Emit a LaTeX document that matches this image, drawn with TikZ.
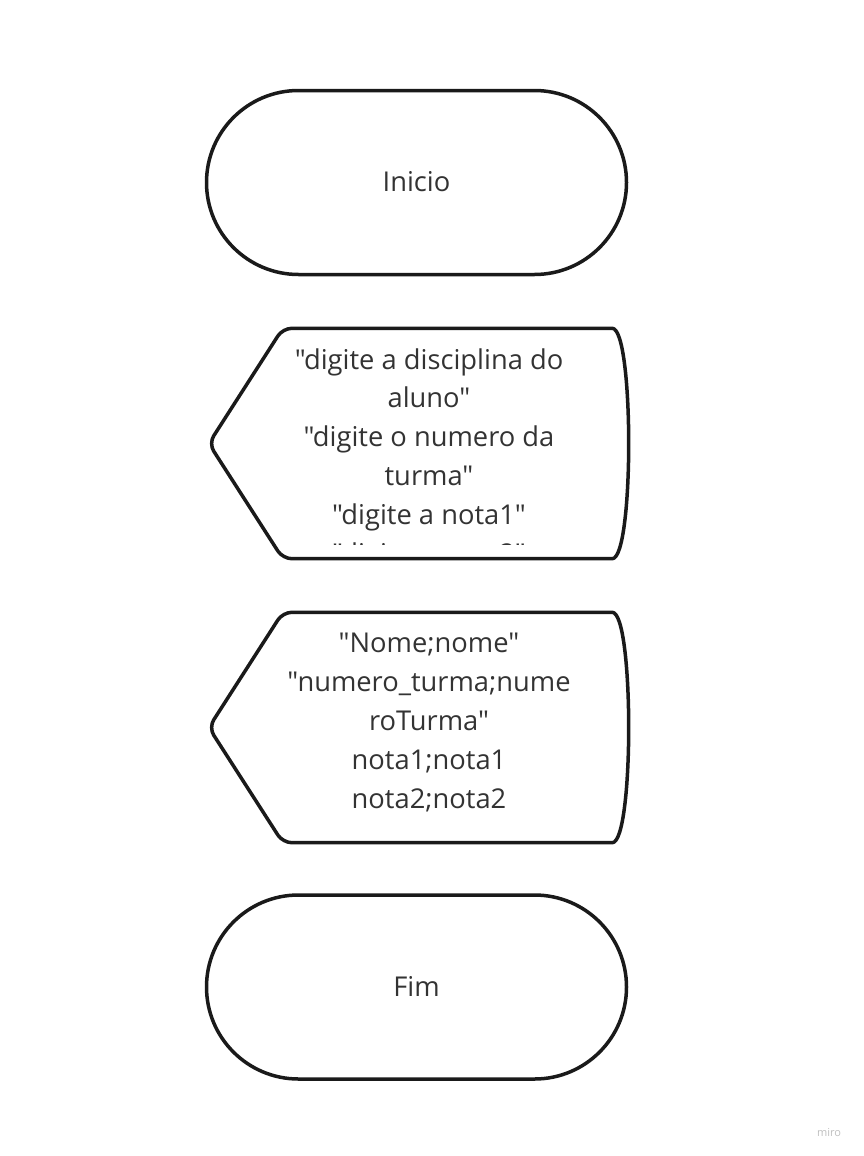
\documentclass[tikz,border=0pt]{standalone}
\usepackage{fontspec}
\setmainfont{Open Sans}[Ligatures=TeXOff]
\usetikzlibrary{positioning, shapes.misc, calc}
\definecolor{traco}{HTML}{1A1A1A}
\definecolor{texto}{HTML}{333333}
\tikzset{
  terminal/.style={rounded rectangle, draw=traco, line width=3.5pt,
    minimum width=420pt, minimum height=184pt, inner sep=0pt,
    font=\fontsize{27.3}{38.8}\selectfont, text=texto},
  exibir/.style={draw=none, minimum width=419pt, minimum height=230pt, inner sep=0pt},
  contorno/.style={draw=traco, line width=3.5pt, rounded corners=9pt, line join=round},
  rotulo/.style={align=center, font=\fontsize{27.3}{38.8}\selectfont, text=texto, inner sep=0pt},
}
% contorno da forma de exibicao
\newcommand{\exibicao}[1]{%
  \draw[contorno] (#1.west) -- ([xshift=74pt]#1.north west) -- ([xshift=-25pt]#1.north east)
    .. controls ([xshift=6pt]#1.north east) and ([xshift=6pt]#1.south east) .. ([xshift=-25pt]#1.south east)
    -- ([xshift=74pt]#1.south west) -- cycle;}

\begin{document}
\begin{tikzpicture}[x=1pt, y=-1pt]
  \useasboundingbox (0,0) rectangle (864,1156);

  \node[terminal] (inicio) at (416.5,182.5) {\raisebox{1.5pt}{Inicio}};

  \node[exibir] (entrada) at (418.5,443.5) {};
  \exibicao{entrada}
  \begin{scope}
    \clip (209,328) rectangle (628,544);
    \node[rotulo, anchor=base] (msgs) at (429,563)
      {"digite a disciplina do\\ aluno"\\ "digite o numero da\\ turma"\\
       "digite a nota1"\\ "digite a nota2"};
  \end{scope}

  \node[exibir] (saida) at (418.5,727.5) {};
  \exibicao{saida}
  \node[rotulo, anchor=base] (dados) at (429,808)
    {"Nome;nome"\\ "numero\_turma;nume\\ roTurma"\\ nota1;nota1\\ nota2;nota2};

  \node[terminal] (fim) at (416.5,987) {\raisebox{1.5pt}{Fim}};

  \node[text=black!25, font=\fontsize{11}{12}\selectfont, inner sep=0pt] (marca) at (829,1133) {miro};
\end{tikzpicture}
\end{document}
